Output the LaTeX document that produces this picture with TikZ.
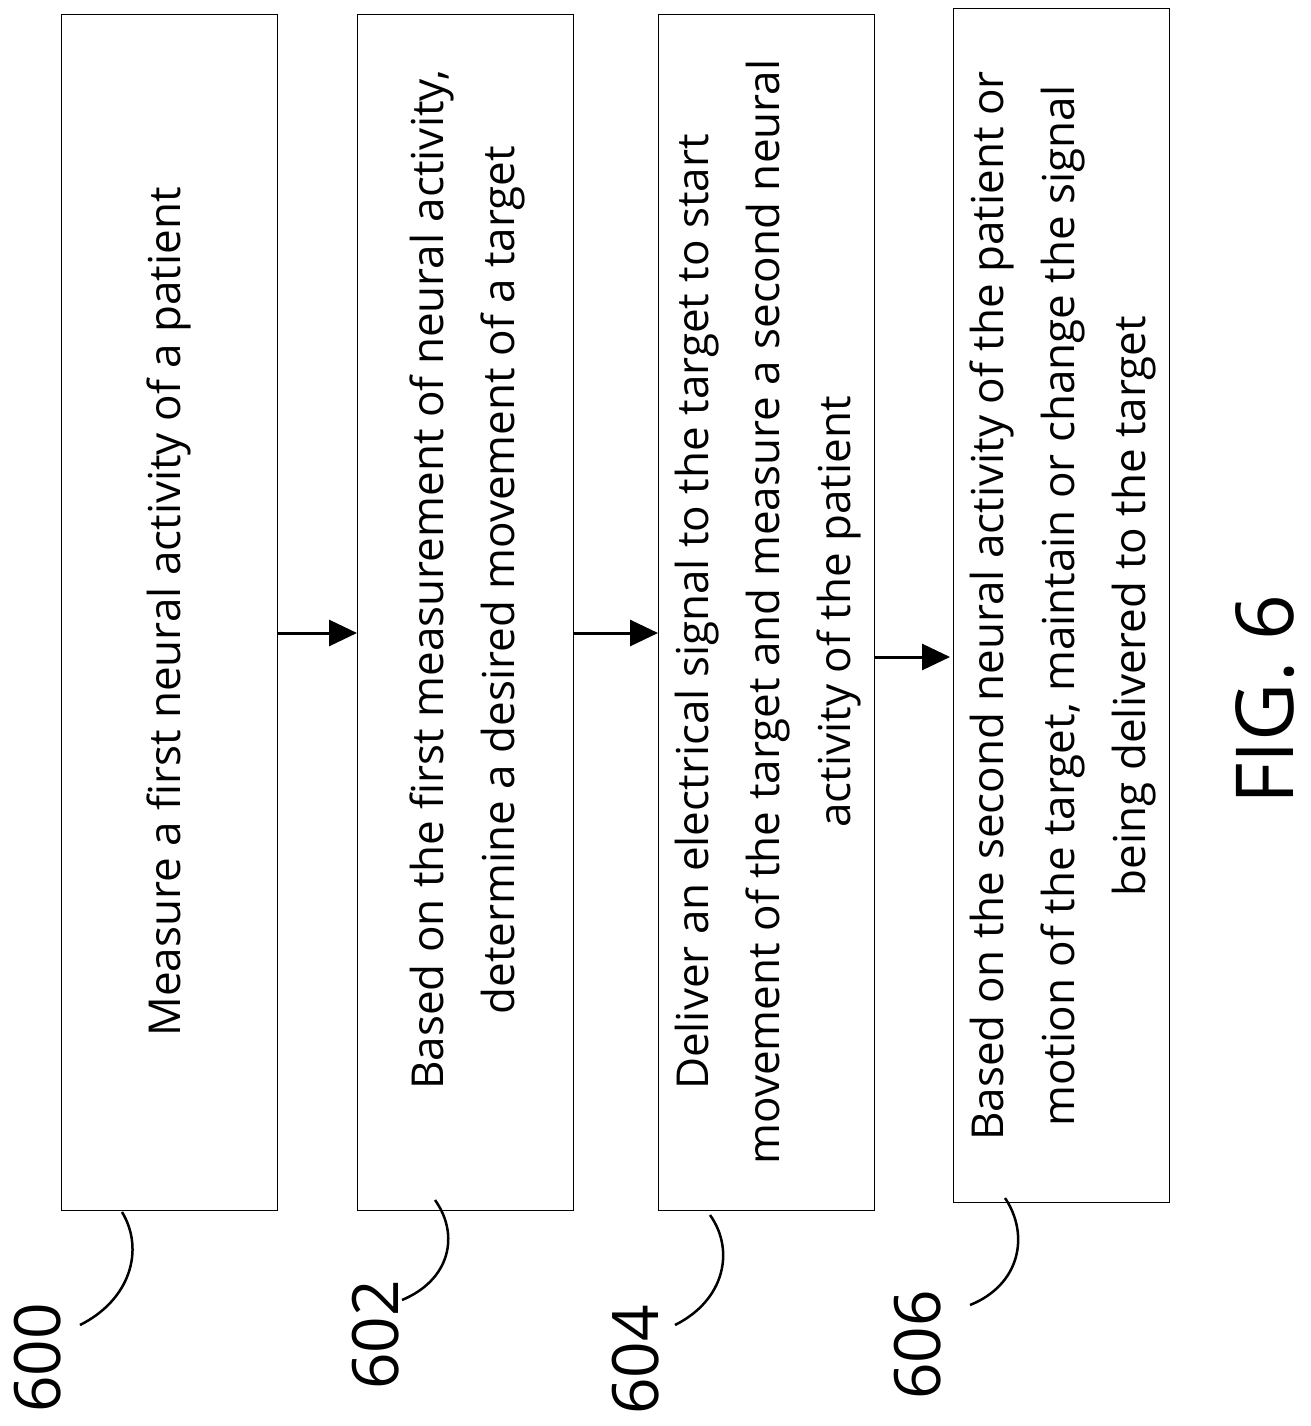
\documentclass[tikz,border=0pt]{standalone}
\usepackage{fontspec}
\setmainfont{Open Sans}
\usetikzlibrary{arrows.meta}
\begin{document}
\begin{tikzpicture}[x=1pt,y=-1pt,
 box/.style={draw,line width=0.8pt,minimum width=216pt},
 txt/.style={rotate=90,align=center,font=\fontsize{44}{71}\selectfont},
 arr/.style={line width=3pt,-{Triangle[length=28pt,width=26pt]}},
 lbl/.style={rotate=90,font=\fontsize{64}{64}\selectfont,anchor=center},
 lead/.style={line width=2.5pt}]
\useasboundingbox (0,0) rectangle (1310,1426);
\node[box,minimum height=1196pt] (b0) at (169,612) {};
\node[box,minimum height=1196pt] (b1) at (465,612) {};
\node[box,minimum height=1196pt] (b2) at (766,612) {};
\node[box,minimum height=1194pt] (b3) at (1061,605) {};
\node[txt] (t0) at (169,612) {Measure a first neural activity of a patient};
\node[txt] (t1) at (467,580) {Based on the first measurement of neural activity,\\determine a desired movement of a target};
\node[txt] (t2) at (768,612) {Deliver an electrical signal to the target to start\\movement of the target and measure a second neural\\activity of the patient};
\node[txt] (t3) at (1063,606) {Based on the second neural activity of the patient or\\motion of the target, maintain or change the signal\\being delivered to the target};
\coordinate (a0) at (277,633); \coordinate (a1) at (357,633);
\coordinate (a2) at (573,633); \coordinate (a3) at (658,633);
\coordinate (a4) at (874,657); \coordinate (a5) at (950,657);
\draw[arr] (a0) -- (a1);
\draw[arr] (a2) -- (a3);
\draw[arr] (a4) -- (a5);
\node[lbl] (l0) at (38,1358) {600};
\node[lbl] (l1) at (376,1335) {602};
\node[lbl] (l2) at (636,1360) {604};
\node[lbl] (l3) at (918,1345) {606};
\draw[lead] (122,1212) .. controls (145,1250) and (130,1300) .. (80,1325);
\draw[lead] (435,1200) .. controls (460,1235) and (450,1280) .. (402,1300);
\draw[lead] (710,1215) .. controls (735,1250) and (725,1300) .. (675,1325);
\draw[lead] (1005,1198) .. controls (1030,1235) and (1020,1285) .. (970,1305);
\node[rotate=90,font=\fontsize{80}{80}\selectfont] (fig) at (1265,700) {FIG. 6};
\end{tikzpicture}
\end{document}
